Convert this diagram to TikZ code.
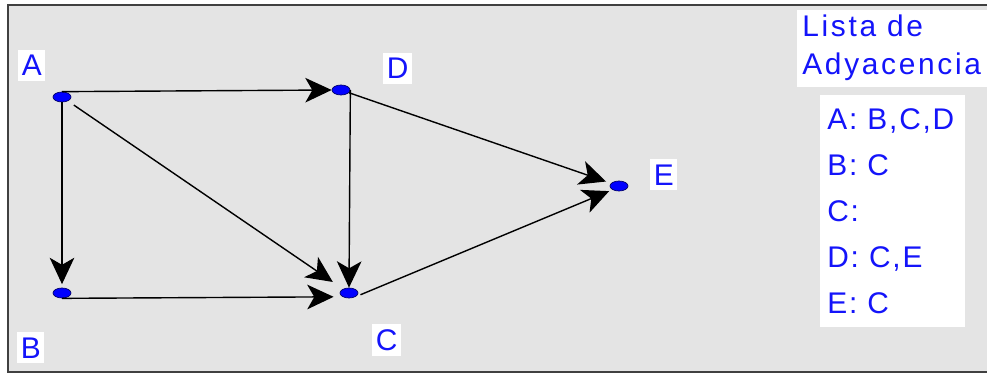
\documentclass[tikz,border=0pt]{standalone}
\usepackage{fontspec}
\setmainfont{Liberation Sans}
\newfontfamily\headfont[LetterSpace=9]{Liberation Sans}
\newfontfamily\rowfont[LetterSpace=6]{Liberation Sans}
\usetikzlibrary{shapes, positioning, arrows.meta}
\definecolor{txtblue}{RGB}{20,20,250}
\definecolor{paper}{RGB}{228,228,228}

\tikzset{
  vertex/.style={ellipse, fill=blue, draw=blue!40!black, line width=0.4pt,
    minimum width=0.36cm, minimum height=0.2cm, inner sep=0pt},
  tag/.style={fill=white, text=txtblue, font=\fontsize{17}{20}\selectfont,
    inner xsep=2pt, inner ysep=3pt, anchor=base west},
  heading/.style={text=txtblue, font=\headfont\fontsize{17}{20}\selectfont,
    inner sep=0pt, anchor=base west},
  entry/.style={text=txtblue, font=\rowfont\fontsize{17}{20}\selectfont,
    inner sep=0pt, anchor=base west},
  edge/.style={-{Stealth[length=15pt, width=14pt, inset=4pt]}, line width=0.8pt}
}

\begin{document}
\begin{tikzpicture}[x=0.02cm, y=-0.02cm]
    \useasboundingbox (0,0) rectangle (987,375);
    % Paper and frame
    \fill[paper] (8,5) rectangle (987,372);
    \draw[black!75, line width=1.1pt] (987,5) -- (8,5) -- (8,372) -- (987,372);

    % Vertices
    \node[vertex] (A) at (62,97) {};
    \node[vertex] (B) at (62,293) {};
    \node[vertex] (C) at (349,293) {};
    \node[vertex] (D) at (341,90) {};
    \node[vertex] (E) at (619,186) {};

    % Vertex names
    \node[tag] (nameA) at (18,76) {A};
    \node[tag] (nameB) at (17,358) {B};
    \node[tag] (nameC) at (372,350) {C};
    \node[tag] (nameD) at (383,79) {D};
    \node[tag] (nameE) at (650,185) {E};

    % Arcs
    \draw[edge] (A.north) -- (D.west);
    \draw[edge, shorten >=2pt] (A.south) -- (B.north);
    \draw[edge, shorten <=4pt, shorten >=7pt] (A) -- (C);
    \draw[edge] (D.east) -- (C.north);
    \draw[edge, shorten >=3pt] (D) -- (E);
    \draw[edge, shorten >=5pt] (B.south) -- (C.south west);
    \draw[edge, shorten <=3pt, shorten >=2pt] (C.south east) -- (E.south west);

    % Adjacency list
    \fill[white] (797,10) rectangle (987,87);
    \node[heading] (head1) at (802,37) {Lista de};
    \node[heading] (head2) at (802,75) {Adyacencia};
    \fill[white] (820,95) rectangle (965,327);
    \foreach \txt [count=\i] in {{A: B,C,D}, {B: C}, {C:}, {D: C,E}, {E: C}}
        \node[entry] (row\i) at (827,{84.25+45.75*\i}) {\txt};
\end{tikzpicture}
\end{document}
